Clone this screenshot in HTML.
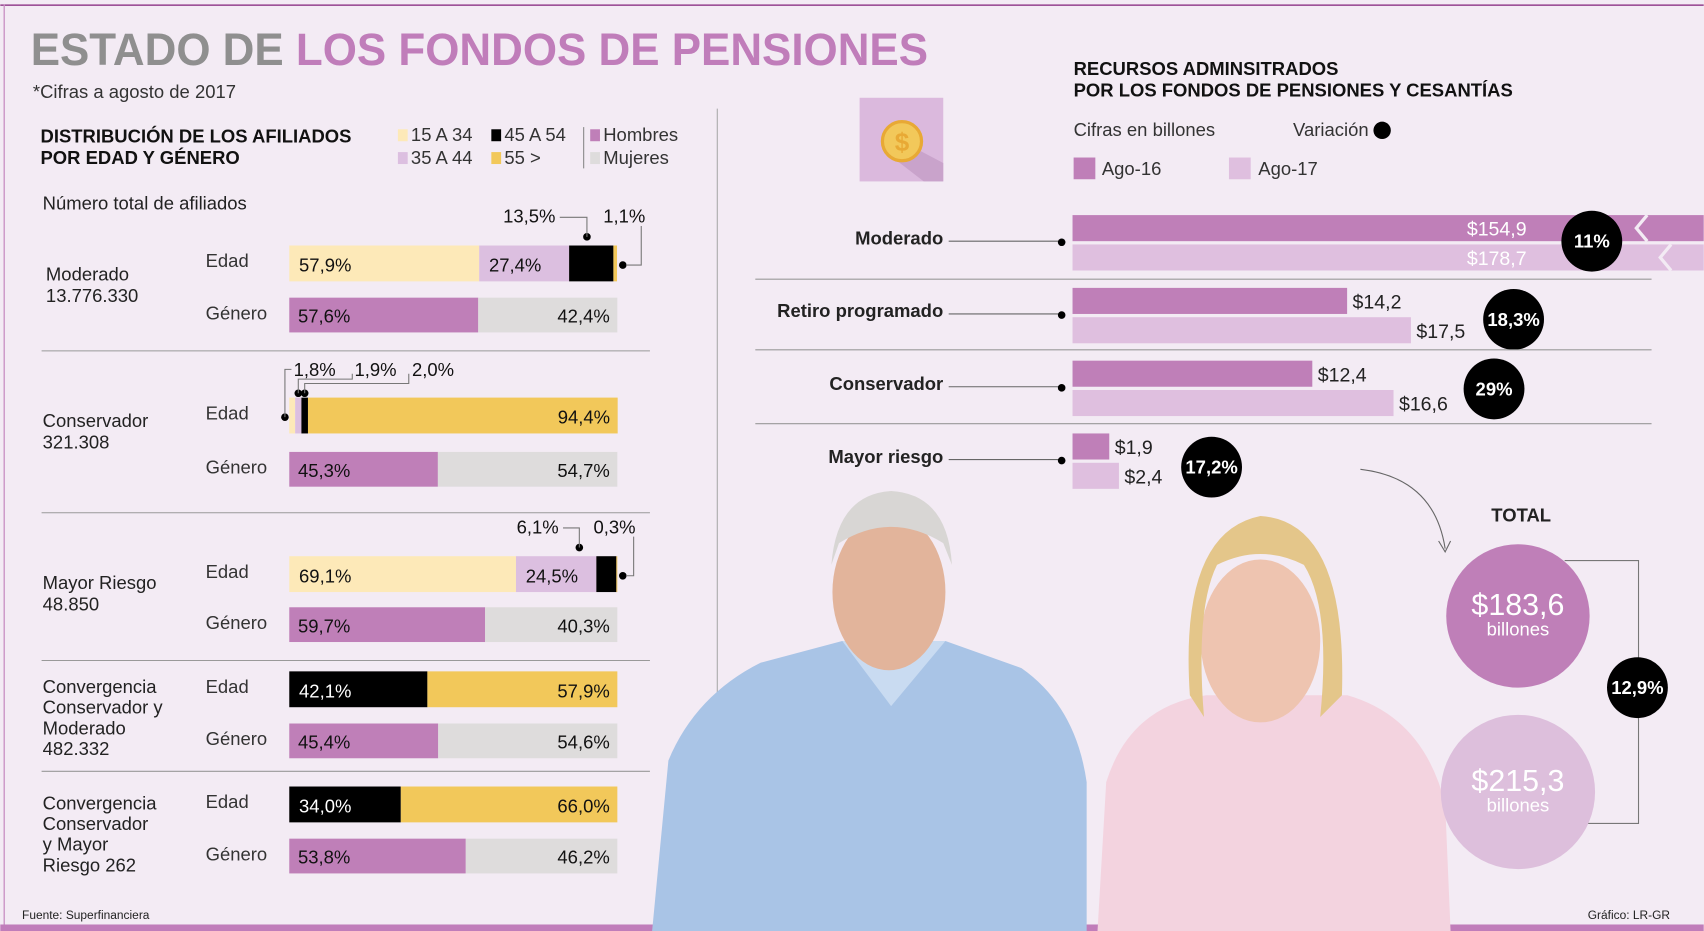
<!DOCTYPE html>
<html><head><meta charset="utf-8"><style>
html,body{margin:0;padding:0;background:#f3ebf4;}
svg{display:block;font-family:"Liberation Sans Narrow","Liberation Sans",sans-serif;}
</style></head><body>
<svg id="chart" width="1704" height="931" viewBox="0 0 1568 857" xmlns="http://www.w3.org/2000/svg">
<rect x="0" y="0" width="1568" height="857" fill="#f3ebf4"/>
<rect x="0" y="4" width="1568" height="1.5" fill="#9b4f95"/>
<rect x="3" y="4" width="1.2" height="853" fill="#c98fc3"/>
<rect x="0" y="851" width="1568" height="6" fill="#c07dba"/>
<text x="28" y="60" font-size="42" font-weight="bold" font-family="Liberation Sans" textLength="826" lengthAdjust="spacingAndGlyphs"><tspan fill="#8f8f8f">ESTADO DE </tspan><tspan fill="#c07dba">LOS FONDOS DE PENSIONES</tspan></text>
<text x="30" y="90" font-size="17" fill="#333">*Cifras a agosto de 2017</text>
<text font-size="17" font-weight="bold" fill="#111"><tspan x="37" y="131">DISTRIBUCIÓN DE LOS AFILIADOS</tspan><tspan x="37" y="151">POR EDAD Y GÉNERO</tspan></text>
<g id="legend" font-size="17" fill="#333"></g>
<text x="39" y="193" font-size="17" fill="#222">Número total de afiliados</text>
<line x1="660" y1="100" x2="660" y2="650" stroke="#aaa" stroke-width="1"/>
<g id="left"></g>
<text font-size="17" font-weight="bold" fill="#111"><tspan x="988" y="69">RECURSOS ADMINSITRADOS</tspan><tspan x="988" y="89">POR LOS FONDOS DE PENSIONES Y CESANTÍAS</tspan></text>
<g><rect x="791" y="90" width="77" height="77" fill="#dbb9dd"/><polygon points="830,130 868,150 868,167 850,167 815,140" fill="#c9a3cb"/><circle cx="830" cy="130" r="18" fill="#f2c85a" stroke="#e8a935" stroke-width="3"/><text x="830" y="139" font-size="24" font-weight="bold" text-anchor="middle" fill="#e8a935">$</text></g>
<text x="988" y="125" font-size="17" fill="#333">Cifras en billones</text>
<text x="1190" y="125" font-size="17" fill="#333">Variación</text>
<circle cx="1272" cy="120" r="8" fill="#000"/>
<rect x="988" y="145" width="20" height="20" fill="#bf7fb8"/>
<text x="1014" y="161" font-size="17" fill="#333">Ago-16</text>
<rect x="1131" y="145" width="20" height="20" fill="#dfbfdf"/>
<text x="1158" y="161" font-size="17" fill="#333">Ago-17</text>
<g id="people">
<path d="M600,857 L615,700 Q640,640 700,610 L775,590 L870,590 L940,615 Q990,650 1000,720 L1000,857 Z" fill="#a9c4e6"/>
<path d="M775,590 L820,650 L870,590 Z" fill="#c9dbf1"/>
<ellipse cx="818" cy="545" rx="52" ry="72" fill="#e2b49b"/>
<path d="M765,520 Q770,455 820,452 Q872,455 876,520 L868,500 Q820,470 772,500 Z" fill="#d8d6d4"/>
<path d="M1010,857 L1018,720 Q1040,650 1110,640 L1240,640 Q1310,660 1330,740 L1335,857 Z" fill="#f3d3df"/>
<ellipse cx="1160" cy="590" rx="55" ry="75" fill="#eec4b0"/>
<path d="M1095,640 Q1085,490 1160,475 Q1240,480 1235,640 L1215,660 Q1225,560 1200,520 Q1160,500 1120,520 Q1100,560 1108,660 Z" fill="#e4c68a"/>
</g>
<g id="right"></g>
<text x="20" y="846" font-size="11" fill="#222">Fuente: Superfinanciera</text>
<text x="1537" y="846" font-size="11" fill="#222" text-anchor="end">Gráfico: LR-GR</text>
</svg>
<script>
const NS="http://www.w3.org/2000/svg";
// Left chart data
const funds=["Moderado","Conservador","Mayor Riesgo","Convergencia Conservador y Moderado","Convergencia Conservador y Mayor Riesgo"];
const fundLabels=[["Moderado","13.776.330"],["Conservador","321.308"],["Mayor Riesgo","48.850"],["Convergencia","Conservador y","Moderado","482.332"],["Convergencia","Conservador","y Mayor","Riesgo 262"]];
const age1534=[57.9,1.8,69.1,0,0];
const age3544=[27.4,1.9,24.5,0,0];
const age4554=[13.5,2.0,6.1,42.1,34.0];
const age55=[1.1,94.4,0.3,57.9,66.0];
const hombres=[57.6,45.3,59.7,45.4,53.8];
const mujeres=[42.4,54.7,40.3,54.6,46.2];
// Right chart data
const rCats=["Moderado","Retiro programado","Conservador","Mayor riesgo"];
const ago16=[154.9,14.2,12.4,1.9];
const ago17=[178.7,17.5,16.6,2.4];
const variacion=["11%","18,3%","29%","17,2%"];
const totals=["$183,6","$215,3"];
const totalVar="12,9%";

function el(tag,attrs,parent,text){const e=document.createElementNS(NS,tag);for(const k in attrs)e.setAttribute(k,attrs[k]);if(text!==undefined)e.textContent=text;parent.appendChild(e);return e;}
const fmt=v=>v.toFixed(1).replace('.',',')+'%';

// legend
const lg=document.getElementById('legend');
[["#fde9b8","15 A 34",366,130],["#000","45 A 54",452,130],["#bf7fb8","Hombres",543,130],["#dcbfe0","35 A 44",366,151],["#f2c85a","55  >",452,151],["#dedcdc","Mujeres",543,151]].forEach(l=>{
 const g=el('g',{},lg);
 
 
 el('rect',{x:l[2],y:l[3]-11,width:9,height:11,fill:l[0]},g);
 el('text',{x:l[2]+12,y:l[3]},g,l[1]);
});
el('line',{x1:537,y1:117,x2:537,y2:155,stroke:'#888'},lg);

const L=document.getElementById('left');
const bx=266,bw=302;
const xs=v=>v/100*bw;
const edadY=[226,366,512,618,724],genY=[274,416,559,666,772];
const labY=[[258,278],[393,413],[542,562],[638,657,676,695],[745,764,783,802]];
funds.forEach((f,i)=>{
 const lab=el('text',{'font-size':17,fill:'#222'},L);
 
 
 fundLabels[i].forEach((t,j)=>el('tspan',{x:i==0?42:39,y:labY[i][j]},lab,t));
 const te=el('text',{x:189,y:edadY[i]+20,'font-size':17,fill:'#333'},L,'Edad');
 
 const tg=el('text',{x:189,y:genY[i]+20,'font-size':17,fill:'#333'},L,'Género');
 
 // age bar
 const segs=[[age1534[i],'#fde9b8','#111'],[age3544[i],'#dcbfe0','#111'],[age4554[i],'#000','#fff'],[age55[i],'#f2c85a','#111']];
 let x=bx;
 segs.forEach((s,k)=>{
  const w=xs(s[0]);
  const r=el('rect',{x:x,y:edadY[i],width:w,height:33,fill:s[1]},L);
  
  
  if(s[0]>=15){
   const right=(k==3);
   el('text',{x:right?x+w-7:x+9,y:edadY[i]+24,'font-size':17,fill:s[2],'text-anchor':right?'end':'start'},L,fmt(s[0]));
  }
  x+=w;
 });
 // gender bar
 const wh=xs(hombres[i]);
 const rh=el('rect',{x:bx,y:genY[i],width:wh,height:32,fill:'#bf7fb8'},L);
 
 const rm=el('rect',{x:bx+wh,y:genY[i],width:xs(mujeres[i]),height:32,fill:'#dedcdc'},L);
 
 el('text',{x:bx+8,y:genY[i]+23,'font-size':17,fill:'#111'},L,fmt(hombres[i]));
 el('text',{x:bx+bw-7,y:genY[i]+23,'font-size':17,fill:'#111','text-anchor':'end'},L,fmt(mujeres[i]));
 // callouts for small segments
 const small=[];
 let cx=bx;
 segs.forEach((s,k)=>{const w=xs(s[0]);if(s[0]>0&&s[0]<15)small.push([s[0],cx+w/2,k]);cx+=w;});
 small.forEach((s,j)=>{
  const y0=edadY[i];
  if(i==1){
   const lx=[254,278,379][j],ly=340;
   if(j==0){el('circle',{cx:262,cy:y0+18,r:3.5,fill:'#000'},L);el('polyline',{points:`262,${y0+18} ${262},${ly} 268,${ly}`,fill:'none',stroke:'#777'},L);el('text',{x:270,y:ly+6,'font-size':17,fill:'#111'},L,fmt(s[0]));}
   else{el('circle',{cx:s[1],cy:y0-4,r:3.5,fill:'#000'},L);el('polyline',{points:`${s[1]},${y0-4} ${s[1]},${ly+9+(j-1)*4} ${j==1?324:376},${ly+9+(j-1)*4} ${j==1?324:376},${ly+4}`,fill:'none',stroke:'#777'},L);el('text',{x:j==1?326:379,y:ly+6,'font-size':17,fill:'#111'},L,fmt(s[0]));}
  } else {
   if(j==small.length-1){
    el('circle',{cx:573,cy:y0+18,r:3.5,fill:'#000'},L);
    el('polyline',{points:`576,${y0+18} ${i==0?590:583},${y0+18} ${i==0?590:583},${y0-18}`,fill:'none',stroke:'#777'},L);
    el('text',{x:i==0?555:546,y:y0-21,'font-size':17,fill:'#111'},L,fmt(s[0]));
   } else {
    el('circle',{cx:i==0?540:533,cy:y0-8,r:3.5,fill:'#000'},L);
    el('polyline',{points:`${i==0?540:533},${y0-8} ${i==0?540:533},${y0-26} ${i==0?515:518},${y0-26}`,fill:'none',stroke:'#777'},L);
    el('text',{x:i==0?511:514,y:y0-21,'font-size':17,fill:'#111','text-anchor':'end'},L,fmt(s[0]));
   }
  }
 });
});
[323,472,608,710].forEach(y=>el('line',{x1:38,y1:y,x2:598,y2:y,stroke:'#999'},L));

// right chart
const R=document.getElementById('right');
const rx=987,sc=17.8,maxW=580;
const rY=[198,265,332,399];
const circ=[[1465,222],[1393,294],[1375,358],[1115,430]];
rCats.forEach((c,i)=>{
 const t=el('text',{x:868,y:rY[i]+27,'font-size':17,'font-weight':'bold',fill:'#222','text-anchor':'end'},R,c);
 
 el('line',{x1:873,y1:rY[i]+24,x2:977,y2:rY[i]+24,stroke:'#666'},R);
 el('circle',{cx:977,cy:rY[i]+25,r:3.5,fill:'#000'},R);
 [[ago16[i],'#bf7fb8',0],[ago17[i],'#dfbfdf',27]].forEach(b=>{
  let w=b[0]*sc;const broken=w>maxW;if(broken)w=maxW+10;
  const r=el('rect',{x:rx,y:rY[i]+b[2],width:broken?1568-rx:w,height:24,fill:b[1]},R);
  
  const lbl='$'+b[0].toFixed(1).replace('.',',');
  if(broken){
   const bxk=b[2]?1532:1510;
   el('polyline',{points:`${bxk+6},${rY[i]+b[2]} ${bxk-4},${rY[i]+b[2]+12} ${bxk+6},${rY[i]+b[2]+24}`,fill:'none',stroke:'#f3ebf4','stroke-width':3},R);
   el('text',{x:1405,y:rY[i]+b[2]+19,'font-size':18,fill:'#fff','text-anchor':'end'},R,lbl);
  } else el('text',{x:rx+w+5,y:rY[i]+b[2]+19,'font-size':18,fill:'#222'},R,lbl);
 });
 const cg=el('g',{},R);
 
 el('circle',{cx:circ[i][0],cy:circ[i][1],r:28,fill:'#000'},cg);
 el('text',{x:circ[i][0],y:circ[i][1]+6,'font-size':17,'font-weight':'bold',fill:'#fff','text-anchor':'middle'},cg,variacion[i]);
});
[257,322,390].forEach(y=>el('line',{x1:695,y1:y,x2:1520,y2:y,stroke:'#999'},R));
el('path',{d:'M1252,432 Q1320,440 1330,505 M1324,498 L1330,508 L1335,498',fill:'none',stroke:'#666'},R);
el('text',{x:1400,y:480,'font-size':17,'font-weight':'bold',fill:'#222','text-anchor':'middle'},R,'TOTAL');
el('polyline',{points:'1440,516 1508,516 1508,758 1445,758',fill:'none',stroke:'#777'},R);
[[1397,567,66,'#bf7fb8'],[1397,729,71,'#ddbfdc']].forEach((c,j)=>{
 const g=el('g',{},R);
 
 el('circle',{cx:c[0],cy:c[1],r:c[2],fill:c[3]},g);
 el('text',{x:c[0],y:c[1]-1,'font-size':28,fill:'#fff','text-anchor':'middle'},g,totals[j]);
 el('text',{x:c[0],y:c[1]+18,'font-size':17,fill:'#fff','text-anchor':'middle'},g,'billones');
});
el('circle',{cx:1507,cy:633,r:28,fill:'#000'},R);
el('text',{x:1507,y:639,'font-size':17,'font-weight':'bold',fill:'#fff','text-anchor':'middle'},R,totalVar);
</script>
</body></html>
